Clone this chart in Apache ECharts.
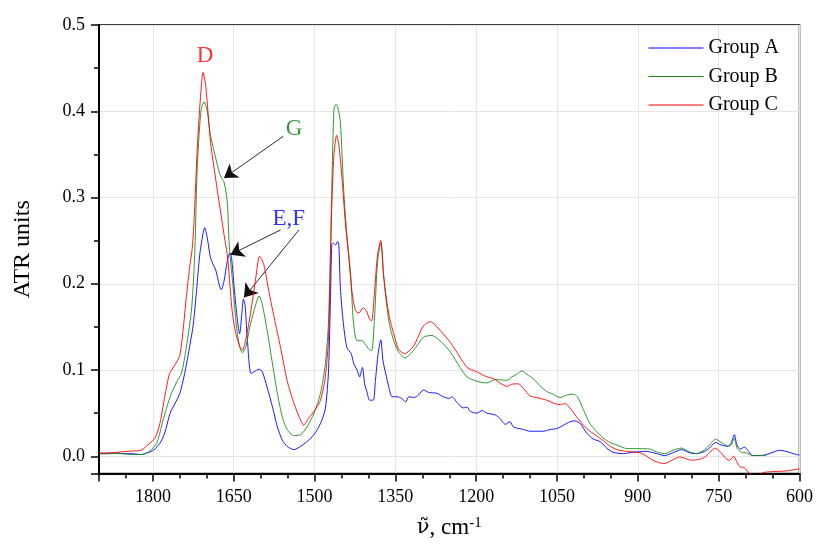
<!DOCTYPE html>
<html>
<head>
<meta charset="utf-8">
<script src="https://cdn.jsdelivr.net/npm/echarts@6/dist/echarts.min.js"></script>
<style>
html,body{margin:0;padding:0;background:#fff;}
#chart{width:816px;height:544px;}
</style>
</head>
<body>
<div id="chart"></div>
<script>
// ---- Data (wavenumber in cm^-1, absorbance in ATR units) ----
const seriesNames = ['Group A', 'Group B', 'Group C'];

const wnA = [1900,1885,1870,1855,1840,1822,1810,1799,1787,1778,1768,1759,1750,1741,1731,1725,1719,1713,1707,1704,1699,1693,1683,1677,1673,1668,1662,1657,1654,1649,1643,1639,1635,1632,1629,1625,1618,1612,1603,1597,1588,1578,1569,1560,1551,1538,1526,1514,1501,1489,1480,1474,1470,1468,1465,1461,1457,1455,1452,1447,1440,1432,1427,1421,1416,1415,1411,1407,1402,1398,1391,1387,1382,1377,1373,1368,1362,1356,1347,1338,1331,1325,1316,1307,1298,1288,1273,1261,1250,1245,1235,1224,1217,1211,1199,1189,1180,1165,1156,1146,1137,1131,1112,1100,1075,1063,1051,1038,1026,1017,1007,995,983,970,958,946,927,909,884,865,850,835,819,804,791,776,767,756,745,733,727,721,716,710,702,696,687,668,649,637,625,606,600];
const absA = [0.003,0.003,0.004,0.003,0.003,0.002,0.004,0.007,0.015,0.027,0.05,0.061,0.073,0.096,0.13,0.153,0.192,0.234,0.258,0.265,0.253,0.23,0.215,0.199,0.193,0.203,0.226,0.236,0.23,0.195,0.157,0.142,0.165,0.182,0.176,0.138,0.096,0.098,0.101,0.098,0.08,0.057,0.034,0.019,0.0115,0.0077,0.0115,0.017,0.025,0.038,0.055,0.1,0.195,0.245,0.247,0.245,0.249,0.246,0.195,0.157,0.126,0.119,0.107,0.1,0.092,0.094,0.103,0.084,0.073,0.065,0.065,0.088,0.119,0.135,0.111,0.096,0.08,0.069,0.069,0.067,0.063,0.069,0.068,0.071,0.077,0.074,0.073,0.069,0.067,0.069,0.062,0.056,0.057,0.052,0.05,0.053,0.05,0.048,0.044,0.037,0.04,0.034,0.031,0.029,0.029,0.031,0.032,0.036,0.04,0.041,0.038,0.027,0.02,0.017,0.0095,0.0046,0.003,0.0046,0.0057,0.003,0.0008,0.004,0.0077,0.004,0.003,0.0057,0.0095,0.016,0.013,0.0115,0.015,0.025,0.013,0.0084,0.0107,0.0069,0.0008,0.001,0.0046,0.0069,0.0057,0.002,0.0015];

const wnB = [1900,1880,1860,1840,1820,1806,1793,1781,1768,1756,1747,1738,1728,1722,1718,1711,1705,1699,1693,1680,1674,1668,1662,1659,1657,1651,1646,1640,1634,1628,1619,1609,1603,1597,1588,1578,1569,1560,1551,1538,1526,1514,1501,1489,1480,1474,1468,1464,1460,1457,1452,1446,1440,1433,1428,1421,1412,1406,1399,1394,1389,1383,1377,1372,1367,1361,1353,1344,1332,1316,1298,1282,1267,1248,1230,1217,1199,1180,1165,1143,1134,1125,1115,1106,1094,1082,1069,1057,1044,1032,1020,1012,1001,989,977,964,952,939,921,896,878,865,850,835,819,804,791,776,767,756,745,733,727,721,716,708,699,687,662];
const absB = [0.003,0.003,0.003,0.002,0.002,0.006,0.015,0.042,0.069,0.086,0.096,0.126,0.172,0.24,0.33,0.399,0.411,0.4,0.372,0.337,0.324,0.318,0.295,0.253,0.234,0.195,0.157,0.13,0.12,0.126,0.153,0.176,0.186,0.176,0.146,0.107,0.073,0.046,0.031,0.024,0.025,0.034,0.05,0.073,0.107,0.157,0.31,0.402,0.408,0.405,0.387,0.31,0.257,0.211,0.157,0.134,0.134,0.13,0.124,0.1226,0.157,0.226,0.247,0.211,0.18,0.153,0.134,0.121,0.114,0.123,0.138,0.14,0.134,0.121,0.103,0.092,0.087,0.085,0.089,0.088,0.092,0.095,0.099,0.095,0.09,0.082,0.075,0.072,0.068,0.071,0.072,0.069,0.054,0.038,0.029,0.021,0.016,0.013,0.009,0.0088,0.0084,0.005,0.003,0.0069,0.0095,0.005,0.003,0.0077,0.013,0.02,0.016,0.012,0.013,0.021,0.0095,0.0046,0.004,0.0008,0.001];

const wnC = [1900,1880,1860,1840,1822,1806,1796,1787,1778,1769,1759,1750,1744,1738,1732,1727,1724,1717,1711,1707,1702,1693,1680,1668,1662,1659,1653,1646,1638,1634,1628,1619,1609,1602,1594,1585,1575,1563,1551,1538,1526,1520,1511,1501,1489,1480,1474,1468,1464,1459,1455,1449,1443,1437,1430,1424,1418,1410,1404,1398,1394,1389,1383,1377,1372,1367,1361,1353,1344,1333,1316,1298,1285,1267,1248,1230,1217,1199,1180,1168,1156,1143,1134,1122,1112,1100,1088,1069,1054,1044,1035,1026,1014,1001,989,977,964,952,939,921,896,884,872,859,850,838,822,810,801,788,776,767,757,748,736,730,722,717,711,702,696,689,683,674,668,625,600];
const absC = [0.004,0.004,0.005,0.006,0.007,0.015,0.021,0.038,0.069,0.096,0.106,0.117,0.146,0.184,0.218,0.241,0.268,0.364,0.422,0.445,0.43,0.364,0.307,0.257,0.234,0.215,0.169,0.142,0.126,0.123,0.134,0.165,0.207,0.232,0.222,0.192,0.161,0.126,0.088,0.061,0.042,0.036,0.044,0.052,0.065,0.092,0.138,0.29,0.349,0.372,0.362,0.322,0.272,0.234,0.188,0.169,0.166,0.172,0.169,0.159,0.157,0.188,0.234,0.25,0.211,0.184,0.161,0.142,0.124,0.119,0.128,0.151,0.156,0.146,0.132,0.115,0.103,0.098,0.092,0.09,0.085,0.081,0.0835,0.084,0.0785,0.07,0.068,0.065,0.061,0.06,0.061,0.056,0.046,0.036,0.029,0.024,0.018,0.012,0.0077,0.0057,0.004,0.0,-0.0046,-0.0077,-0.0084,-0.005,-0.0008,-0.003,-0.0046,-0.0038,-0.0011,0.004,0.0095,0.0057,-0.003,-0.0046,0.0,-0.0057,-0.012,-0.0134,-0.018,-0.021,-0.024,-0.024,-0.019,-0.017,-0.0146];

// annotation texts and their anchor points (data coordinates)
const noteText = ['D', 'G', 'E,F'];
const noteWn = [1703, 1538, 1548];
const noteVal = [0.4636, 0.380, 0.2747];
// arrows: [start wn, start value] -> [end wn, end value]
const arrowFrom = [[1558, 0.371], [1563, 0.2624], [1529, 0.2624]];
const arrowTo = [[1668, 0.3226], [1656, 0.2337], [1631, 0.184]];

// ---- Styles ----
const FONT = 'Liberation Serif';
const colors = ['#0000ff', '#1a8c1a', '#ff0000'];
const noteColors = ['#ff0000', '#008000', '#0000ff'];

function pairs(xs, ys) { return xs.map((x, i) => [x, ys[i]]); }

const chart = echarts.init(document.getElementById('chart'), null, { renderer: 'canvas' });

const lineSeries = [[wnA, absA], [wnB, absB], [wnC, absC]].map((d, i) => ({
  name: seriesNames[i],
  type: 'line',
  data: pairs(d[0], d[1]),
  symbol: 'none',
  showSymbol: false,
  smooth: 0.25,
  clip: true,
  lineStyle: { color: colors[i], width: 0.9 },
  itemStyle: { color: colors[i] },
  z: 3 + i
}));

const noteSeries = {
  name: 'notes',
  type: 'scatter',
  symbolSize: 0,
  silent: true,
  data: noteText.map((t, i) => ({
    value: [noteWn[i], noteVal[i]],
    name: t,
    label: { color: noteColors[i] }
  })),
  label: {
    show: true,
    position: 'inside',
    formatter: '{b}',
    fontFamily: FONT,
    fontSize: 23
  },
  markLine: {
    silent: true,
    symbol: ['none', 'arrow'],
    symbolSize: 13,
    label: { show: false },
    lineStyle: { color: '#111', width: 0.9, type: 'solid' },
    emphasis: { disabled: true },
    data: arrowFrom.map((s, i) => [{ coord: s }, { coord: arrowTo[i] }])
  },
  z: 10
};

const option = {
  backgroundColor: '#fff',
  animation: false,
  textStyle: { fontFamily: FONT },
  grid: {
    left: 99, right: 16, top: 25, bottom: 67,
    show: true, borderColor: '#000', borderWidth: 1.5, backgroundColor: 'transparent'
  },
  legend: {
    data: seriesNames,
    orient: 'vertical',
    left: 643,
    top: 33,
    itemWidth: 55,
    itemHeight: 18,
    itemGap: 8.5,
    itemStyle: { color: 'transparent', borderWidth: 0, opacity: 0 },
    lineStyle: { width: 1 },
    textStyle: { fontFamily: FONT, fontSize: 20, color: '#000', lineHeight: 18 }
  },
  xAxis: {
    type: 'value',
    inverse: true,
    min: 600,
    max: 1900,
    interval: 150,
    name: '{a|ν\u0303}{b|, cm}{s|-1}',
    nameLocation: 'middle',
    nameGap: 42,
    nameTextStyle: {
      color: '#000',
      rich: {
        a: { fontFamily: 'DejaVu Serif', fontSize: 21, lineHeight: 24, color: '#000' },
        b: { fontFamily: FONT, fontSize: 23, lineHeight: 24, color: '#000' },
        s: { fontFamily: FONT, fontSize: 15, lineHeight: 14, verticalAlign: 'top', color: '#000' }
      }
    },
    axisLine: { show: true, onZero: false, lineStyle: { color: '#000', width: 2 } },
    axisTick: { show: true, length: 8, lineStyle: { color: '#000', width: 1.5 } },
    minorTick: { show: true, splitNumber: 3, length: 5, lineStyle: { color: '#000', width: 1.5 } },
    axisLabel: {
      color: '#000', fontFamily: FONT, fontSize: 18, margin: 15,
      formatter: v => (v > 1850 ? '' : String(v))
    },
    splitLine: { show: true, lineStyle: { color: '#e4e4e4', width: 1 } }
  },
  yAxis: {
    type: 'value',
    min: -0.02,
    max: 0.5,
    splitNumber: 5,
    name: 'ATR units',
    nameLocation: 'middle',
    nameGap: 64,
    nameTextStyle: { fontFamily: FONT, fontSize: 24, color: '#000' },
    axisLine: { show: true, onZero: false, lineStyle: { color: '#000', width: 2 } },
    axisTick: { show: true, length: 8, lineStyle: { color: '#000', width: 1.5 } },
    minorTick: { show: true, splitNumber: 2, length: 5, lineStyle: { color: '#000', width: 1.5 } },
    axisLabel: {
      color: '#000', fontFamily: FONT, fontSize: 18, margin: 14,
      formatter: v => (v < -1e-9 ? '' : v.toFixed(1))
    },
    splitLine: { show: true, lineStyle: { color: '#e4e4e4', width: 1 } }
  },
  series: [...lineSeries, noteSeries]
};

chart.setOption(option);
</script>
</body>
</html>
